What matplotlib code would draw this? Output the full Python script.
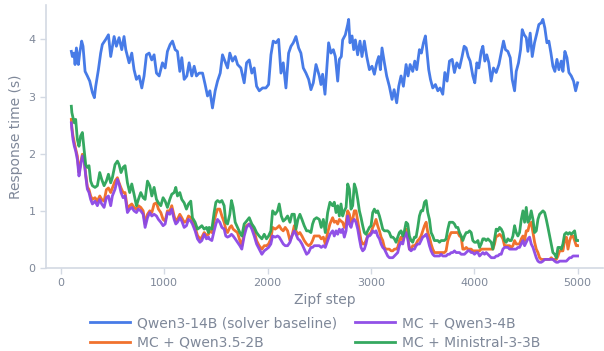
import matplotlib
matplotlib.use('Agg')
import matplotlib.pyplot as plt

# solver baseline
steps_base = [100, 110, 126, 136, 149, 168, 181, 200, 213, 233, 255, 278, 304, 323, 336, 362, 384, 400, 433, 459,
              481, 514, 536, 562, 588, 610, 627, 659, 685, 707, 730, 756, 782, 804, 827, 853, 878, 901, 924, 950,
              982, 1008, 1030, 1056, 1079, 1105, 1127, 1150, 1169, 1192, 1218, 1240, 1266, 1289, 1311, 1337, 1370,
              1395, 1418, 1441, 1466, 1492, 1515, 1541, 1563, 1586, 1612, 1634, 1660, 1686, 1709, 1741, 1773, 1796,
              1822, 1847, 1870, 1893, 1919, 1951, 1983, 2009, 2032, 2054, 2080, 2106, 2129, 2151, 2177, 2203, 2226,
              2248, 2274, 2300, 2322, 2345, 2371, 2397, 2419, 2442, 2468,
              2500, 2516, 2532, 2555, 2571, 2590, 2613, 2636, 2655, 2678, 2694, 2713, 2726, 2752, 2775, 2784, 2797,
              2817, 2833, 2849, 2871, 2894, 2913, 2936, 2959, 2985, 3010, 3033, 3056, 3075, 3091, 3107, 3130, 3152,
              3178, 3204, 3224, 3249, 3269, 3291, 3314, 3340, 3359, 3379, 3404, 3424, 3443, 3469, 3488, 3508, 3527,
              3540, 3559, 3576, 3598, 3624, 3647, 3669, 3695, 3715, 3737, 3760, 3786, 3808, 3831, 3857, 3882, 3902,
              3921, 3941, 3960, 3986, 4005, 4025, 4044, 4067, 4083, 4102, 4121, 4141, 4163, 4186, 4212, 4238, 4260,
              4283, 4302, 4325, 4348, 4367, 4390, 4406, 4428, 4448, 4464, 4483, 4503, 4519, 4541, 4561, 4583, 4606,
              4625, 4648, 4664, 4683, 4703, 4722, 4742, 4761, 4780, 4800, 4819, 4842, 4858, 4877, 4897, 4916, 4939,
              4961, 4981, 5000]
qwen3_14b = [3.79, 3.70, 3.76, 3.56, 3.85, 3.56, 3.76, 3.97, 3.88, 3.44, 3.36, 3.27, 3.07, 2.98, 3.18, 3.47, 3.76,
             3.91, 4.00, 4.08, 3.70, 4.05, 3.88, 4.03, 3.82, 4.05, 3.82, 3.59, 3.76, 3.47, 3.30, 3.36, 3.15, 3.36,
             3.73, 3.76, 3.64, 3.73, 3.41, 3.36, 3.59, 3.50, 3.79, 3.91, 3.97, 3.82, 3.79, 3.44, 3.68, 3.30, 3.36,
             3.59, 3.36, 3.53, 3.36, 3.41, 3.41, 3.21, 3.01, 3.10, 2.80, 3.10, 3.27, 3.41, 3.73, 3.62, 3.50, 3.76,
             3.62, 3.70, 3.56, 3.50, 3.24, 3.59, 3.64, 3.41, 3.50, 3.18, 3.10, 3.15, 3.15, 3.21, 3.73, 3.97, 3.94,
             4.00, 3.41, 3.59, 3.15, 3.76, 3.88, 3.94, 4.05, 3.85, 3.76, 3.50, 3.41, 3.30, 3.12, 3.24, 3.56,
             3.36, 3.21, 3.39, 3.04, 3.44, 3.94, 3.76, 3.82, 3.70, 3.27, 3.65, 3.70, 3.99, 4.08, 4.26, 4.35, 3.94,
             4.06, 3.82, 3.99, 3.73, 3.97, 3.70, 3.97, 3.70, 3.47, 3.53, 3.39, 3.59, 3.70, 3.47, 3.85, 3.59, 3.36,
             3.18, 2.95, 3.12, 2.89, 3.18, 3.36, 3.18, 3.56, 3.36, 3.56, 3.44, 3.62, 3.47, 3.82, 3.76, 3.94, 4.06,
             3.82, 3.47, 3.30, 3.15, 3.21, 3.10, 3.15, 3.04, 3.42, 3.27, 3.62, 3.65, 3.42, 3.59, 3.50, 3.70, 3.88,
             3.85, 3.70, 3.62, 3.36, 3.24, 3.59, 3.50, 3.79, 3.88, 3.62, 3.73, 3.59, 3.27, 3.50, 3.42, 3.56, 3.76,
             3.97, 3.82, 3.79, 3.68, 3.30, 3.10, 3.44, 3.59, 3.82, 4.17, 4.08, 4.03, 3.79, 4.11, 3.70, 3.94, 4.11,
             4.26, 4.29, 4.35, 4.20, 3.94, 3.97, 3.76, 3.53, 3.44, 3.65, 3.47, 3.62, 3.44, 3.79, 3.68, 3.42, 3.36,
             3.27, 3.10, 3.24]

# the three MC runs share one step grid
steps_mc = [100, 105, 116, 129, 142, 158, 174, 190, 207, 223, 239, 255, 271, 287, 304, 329, 352, 375, 394, 417,
            439, 459, 481, 497, 523, 546, 562, 581, 601, 620, 643, 665, 685, 707, 730, 749, 772, 795, 814, 837,
            859, 879, 901, 924, 943, 966, 988, 1008, 1030, 1053, 1072, 1095, 1111, 1127, 1150, 1169, 1192, 1214,
            1234, 1256, 1272, 1298, 1321, 1344, 1363, 1386, 1408, 1428,
            1434, 1460, 1482, 1499, 1515, 1537, 1557, 1579, 1595, 1612, 1634, 1650, 1666, 1686, 1708, 1731, 1750,
            1773, 1796, 1822, 1847, 1870, 1893, 1918, 1944, 1967, 1989, 2009, 2031, 2048, 2073, 2096, 2112, 2132,
            2151, 2170, 2193, 2216, 2235, 2258, 2274, 2293, 2312, 2332, 2354, 2377, 2396, 2419, 2435, 2451, 2474,
            2500, 2519, 2539, 2558, 2581, 2603, 2629,
            2645, 2662, 2678, 2694, 2710, 2726, 2742, 2759, 2775, 2791, 2807, 2823, 2839, 2855, 2872, 2888, 2904,
            2920, 2936, 2952, 2968, 2985, 3001, 3017, 3033, 3049, 3065, 3082, 3098, 3114, 3130, 3146, 3162, 3178,
            3195, 3211, 3227, 3243, 3259, 3275, 3291, 3308, 3324, 3340, 3356, 3372, 3388, 3404, 3421, 3437, 3453,
            3469, 3485, 3501, 3518, 3534, 3550, 3566, 3582, 3598, 3614, 3631, 3647, 3663, 3679, 3695, 3711, 3727,
            3744, 3760, 3776, 3792, 3808, 3824, 3841, 3857, 3873,
            3889, 3905, 3922, 3938, 3954, 3970, 3986, 4002, 4019, 4035, 4051, 4067, 4083, 4099, 4115, 4132, 4148,
            4164, 4180, 4196, 4212, 4228, 4245, 4261, 4277, 4293, 4309, 4325, 4342, 4358, 4374, 4390, 4406, 4422,
            4438, 4455, 4471, 4487, 4503, 4519, 4535, 4551, 4568, 4584, 4600, 4616, 4632, 4648, 4665, 4681, 4697,
            4713, 4729, 4745, 4761, 4778, 4794, 4810, 4826, 4842, 4858, 4874, 4891, 4907, 4923, 4939, 4955, 4971,
            4987, 5000]

qwen35_2b = [2.60, 2.46, 2.31, 2.19, 2.08, 1.96, 1.67, 1.84, 1.99, 1.93, 1.64, 1.42, 1.37, 1.26, 1.20, 1.23, 1.17,
             1.26, 1.20, 1.17, 1.37, 1.40, 1.32, 1.40, 1.52, 1.58, 1.49, 1.40, 1.32, 1.32, 1.03, 1.09, 1.12, 1.06,
             1.03, 1.09, 1.06, 1.00, 0.77, 0.94, 1.00, 0.97, 1.12, 1.14, 1.03, 0.97, 0.85, 0.82, 1.00, 1.00, 1.09,
             0.91, 0.82, 0.85, 0.94, 0.88, 0.80, 0.82, 0.91, 0.88, 0.82, 0.71, 0.57, 0.51, 0.54, 0.62, 0.57, 0.59,
             0.65, 0.62, 0.82, 0.94, 1.03, 1.03, 0.91, 0.80, 0.68, 0.62, 0.71, 0.74, 0.68, 0.65, 0.62, 0.48, 0.39,
             0.62, 0.74, 0.77, 0.71, 0.65, 0.48, 0.39, 0.33, 0.39, 0.39, 0.42, 0.51, 0.71, 0.68, 0.71, 0.74, 0.68,
             0.65, 0.71, 0.65, 0.48, 0.56, 0.74, 0.65, 0.59, 0.62, 0.56, 0.48, 0.42, 0.39, 0.42, 0.48, 0.56, 0.56,
             0.56, 0.51, 0.54, 0.42, 0.62, 0.77, 0.88,
             0.80, 0.82, 0.77, 0.85, 0.82, 0.80, 0.71, 0.80, 1.00, 0.94, 0.80, 0.85, 1.00, 1.00, 0.82, 0.65, 0.48,
             0.42, 0.42, 0.48, 0.56, 0.59, 0.62, 0.71, 0.77, 0.85, 0.74, 0.65, 0.54, 0.48, 0.36, 0.33, 0.33, 0.33,
             0.30, 0.30, 0.33, 0.33, 0.36, 0.48, 0.54, 0.48, 0.56, 0.68, 0.56, 0.33, 0.33, 0.39, 0.39, 0.42, 0.48,
             0.51, 0.56, 0.65, 0.74, 0.80, 0.62, 0.54, 0.42, 0.33, 0.27, 0.27, 0.27, 0.27, 0.27, 0.27, 0.27, 0.30,
             0.48, 0.56, 0.62, 0.62, 0.62, 0.62, 0.62, 0.56, 0.54,
             0.33, 0.33, 0.36, 0.33, 0.33, 0.33, 0.30, 0.30, 0.30, 0.30, 0.30, 0.33, 0.33, 0.33, 0.33, 0.33, 0.33,
             0.33, 0.33, 0.42, 0.56, 0.56, 0.59, 0.56, 0.51, 0.39, 0.39, 0.39, 0.39, 0.36, 0.39, 0.48, 0.42, 0.42,
             0.42, 0.51, 0.56, 0.48, 0.65, 0.65, 0.77, 0.80, 0.62, 0.45, 0.33, 0.27, 0.18, 0.15, 0.15, 0.15, 0.15,
             0.15, 0.15, 0.18, 0.15, 0.15, 0.15, 0.21, 0.30, 0.30, 0.30, 0.48, 0.54, 0.33, 0.48, 0.56, 0.56, 0.48,
             0.39, 0.39]

qwen3_4b = [2.54, 2.43, 2.25, 2.13, 2.05, 1.90, 1.61, 1.79, 1.96, 1.90, 1.61, 1.38, 1.32, 1.20, 1.12, 1.17, 1.09,
            1.20, 1.12, 1.06, 1.23, 1.26, 1.09, 1.26, 1.38, 1.55, 1.47, 1.32, 1.23, 1.26, 0.97, 1.03, 1.06, 1.00,
            0.97, 1.03, 1.00, 0.94, 0.71, 0.88, 0.97, 0.91, 0.94, 0.91, 0.85, 0.80, 0.74, 0.77, 0.97, 0.94, 1.03,
            0.85, 0.77, 0.80, 0.88, 0.82, 0.71, 0.74, 0.85, 0.82, 0.77, 0.65, 0.51, 0.45, 0.48, 0.59, 0.51, 0.54,
            0.51, 0.48, 0.65, 0.77, 0.85, 0.80, 0.71, 0.68, 0.56, 0.54, 0.56, 0.59, 0.56, 0.51, 0.45, 0.39, 0.33,
            0.56, 0.71, 0.77, 0.68, 0.56, 0.42, 0.33, 0.24, 0.30, 0.33, 0.36, 0.42, 0.56, 0.54, 0.56, 0.54, 0.48,
            0.42, 0.39, 0.39, 0.45, 0.56, 0.65, 0.59, 0.51, 0.48, 0.42, 0.33, 0.24, 0.27, 0.36, 0.36, 0.39, 0.39,
            0.39, 0.36, 0.39, 0.36, 0.48, 0.59, 0.65,
            0.56, 0.65, 0.59, 0.68, 0.62, 0.68, 0.54, 0.65, 0.91, 0.77, 0.71, 0.82, 0.85, 0.80, 0.68, 0.51, 0.36,
            0.30, 0.33, 0.42, 0.56, 0.56, 0.59, 0.65, 0.62, 0.65, 0.56, 0.51, 0.42, 0.36, 0.33, 0.27, 0.21, 0.18,
            0.18, 0.18, 0.21, 0.24, 0.27, 0.39, 0.45, 0.42, 0.56, 0.62, 0.51, 0.33, 0.30, 0.33, 0.33, 0.39, 0.42,
            0.42, 0.48, 0.54, 0.56, 0.59, 0.51, 0.39, 0.30, 0.24, 0.21, 0.21, 0.21, 0.21, 0.24, 0.21, 0.21, 0.21,
            0.24, 0.24, 0.27, 0.27, 0.30, 0.27, 0.27, 0.27, 0.24,
            0.24, 0.24, 0.27, 0.30, 0.30, 0.27, 0.27, 0.24, 0.27, 0.27, 0.21, 0.24, 0.27, 0.24, 0.27, 0.24, 0.21,
            0.18, 0.18, 0.18, 0.21, 0.21, 0.24, 0.24, 0.33, 0.36, 0.36, 0.36, 0.33, 0.33, 0.33, 0.33, 0.33, 0.36,
            0.36, 0.42, 0.48, 0.39, 0.45, 0.51, 0.54, 0.42, 0.36, 0.27, 0.18, 0.12, 0.10, 0.10, 0.12, 0.15, 0.15,
            0.15, 0.15, 0.15, 0.15, 0.12, 0.10, 0.10, 0.12, 0.12, 0.12, 0.12, 0.12, 0.15, 0.18, 0.18, 0.21, 0.21,
            0.21, 0.21]

ministral_3b = [2.83, 2.72, 2.63, 2.54, 2.60, 2.25, 2.13, 2.31, 2.37, 2.08, 1.81, 1.76, 1.79, 1.52, 1.44, 1.41,
                1.44, 1.67, 1.55, 1.44, 1.52, 1.64, 1.49, 1.58, 1.81, 1.87, 1.81, 1.67, 1.76, 1.79, 1.49, 1.32,
                1.47, 1.29, 1.09, 1.20, 1.32, 1.23, 1.20, 1.52, 1.44, 1.26, 1.41, 1.20, 1.14, 1.09, 1.23, 1.17,
                1.06, 1.20, 1.29, 1.32, 1.41, 1.26, 1.32, 1.20, 1.14, 1.03, 1.12, 1.17, 0.88, 0.80, 0.68, 0.71,
                0.74, 0.68, 0.71, 0.62,
                0.71, 0.68, 0.97, 1.15, 1.18, 1.15, 1.18, 1.09, 0.80, 0.77, 0.94, 1.18, 1.06, 0.80, 0.71, 0.62,
                0.56, 0.77, 0.82, 0.88, 0.77, 0.71, 0.62, 0.56, 0.51, 0.59, 0.51, 0.56, 0.65, 1.00, 0.94, 1.00,
                1.12, 0.91, 0.82, 0.85, 0.91, 0.80, 0.94, 0.94, 0.68, 0.85, 0.94, 0.85, 0.74, 0.65, 0.65, 0.62,
                0.77, 0.85, 0.88, 0.85, 0.71, 0.85, 0.62, 0.97, 1.15, 1.09,
                1.15, 0.97, 1.09, 0.91, 1.12, 0.91, 1.00, 1.06, 1.47, 1.38, 1.03, 1.09, 1.47, 1.38, 1.20, 1.00,
                0.88, 0.74, 0.62, 0.59, 0.65, 0.71, 0.74, 0.97, 1.03, 0.97, 1.00, 0.91, 0.80, 0.68, 0.65, 0.65,
                0.65, 0.62, 0.54, 0.54, 0.51, 0.45, 0.54, 0.62, 0.65, 0.56, 0.65, 0.80, 0.77, 0.56, 0.48, 0.45,
                0.54, 0.54, 0.71, 0.91, 1.00, 1.00, 1.15, 1.18, 0.97, 0.85, 0.62, 0.56, 0.48, 0.48, 0.48, 0.45,
                0.48, 0.48, 0.48, 0.51, 0.68, 0.80, 0.80, 0.80, 0.77, 0.71, 0.71, 0.62, 0.56,
                0.48, 0.56, 0.62, 0.62, 0.65, 0.62, 0.48, 0.45, 0.45, 0.48, 0.36, 0.42, 0.51, 0.51, 0.48, 0.51,
                0.48, 0.45, 0.33, 0.51, 0.68, 0.65, 0.71, 0.68, 0.62, 0.48, 0.45, 0.51, 0.48, 0.48, 0.56, 0.74,
                0.62, 0.56, 0.62, 0.85, 1.00, 0.80, 1.06, 0.80, 0.85, 1.00, 0.85, 0.62, 0.65, 0.85, 0.94, 0.97,
                1.00, 0.97, 0.85, 0.71, 0.56, 0.42, 0.27, 0.24, 0.18, 0.36, 0.36, 0.33, 0.42, 0.59, 0.62, 0.59,
                0.62, 0.59, 0.62, 0.65, 0.48, 0.48]

labels = ['Qwen3-14B (solver baseline)', 'MC + Qwen3.5-2B', 'MC + Qwen3-4B', 'MC + Ministral-3-3B']
colors = ['#3d74e6', '#f06a22', '#8b47e6', '#2aa457']

TEXT = '#7f8899'
SPINE = '#d3d9e3'


def plot_response_times():
    fig = plt.figure(figsize=(6.04, 3.51), dpi=100)
    ax = fig.add_axes([0.0762, 0.2365, 0.922, 0.749])

    series = [(steps_base, qwen3_14b), (steps_mc, qwen35_2b),
              (steps_mc, qwen3_4b), (steps_mc, ministral_3b)]
    for (xs, ys), lab, col in zip(series, labels, colors):
        ax.plot(xs, ys, color=col, lw=2.0, alpha=0.95, label=lab,
                solid_joinstyle='round')

    ax.set_xlim(-145, 5245)
    ax.set_ylim(0, 4.6)
    ax.set_xticks([0, 1000, 2000, 3000, 4000, 5000])
    ax.set_yticks([0, 1, 2, 3, 4])
    for side in ['top', 'right']:
        ax.spines[side].set_visible(False)
    for side in ['left', 'bottom']:
        ax.spines[side].set_color(SPINE)
        ax.spines[side].set_linewidth(1.2)
    ax.tick_params(colors=SPINE, labelcolor=TEXT, labelsize=8, length=4, width=1)
    ax.set_xlabel('Zipf step', color=TEXT, fontsize=10, labelpad=3)
    ax.set_ylabel('Response time (s)', color=TEXT, fontsize=10)

    leg = fig.legend(loc='upper center', bbox_to_anchor=(0.522, 0.127), ncol=2,
                     frameon=False, fontsize=10, handlelength=2.9,
                     handletextpad=0.5, columnspacing=1.3, labelspacing=0.4,
                     borderpad=0.2)
    for txt in leg.get_texts():
        txt.set_color(TEXT)

    fig.savefig('out.png', dpi=100)


if __name__ == '__main__':
    plot_response_times()
